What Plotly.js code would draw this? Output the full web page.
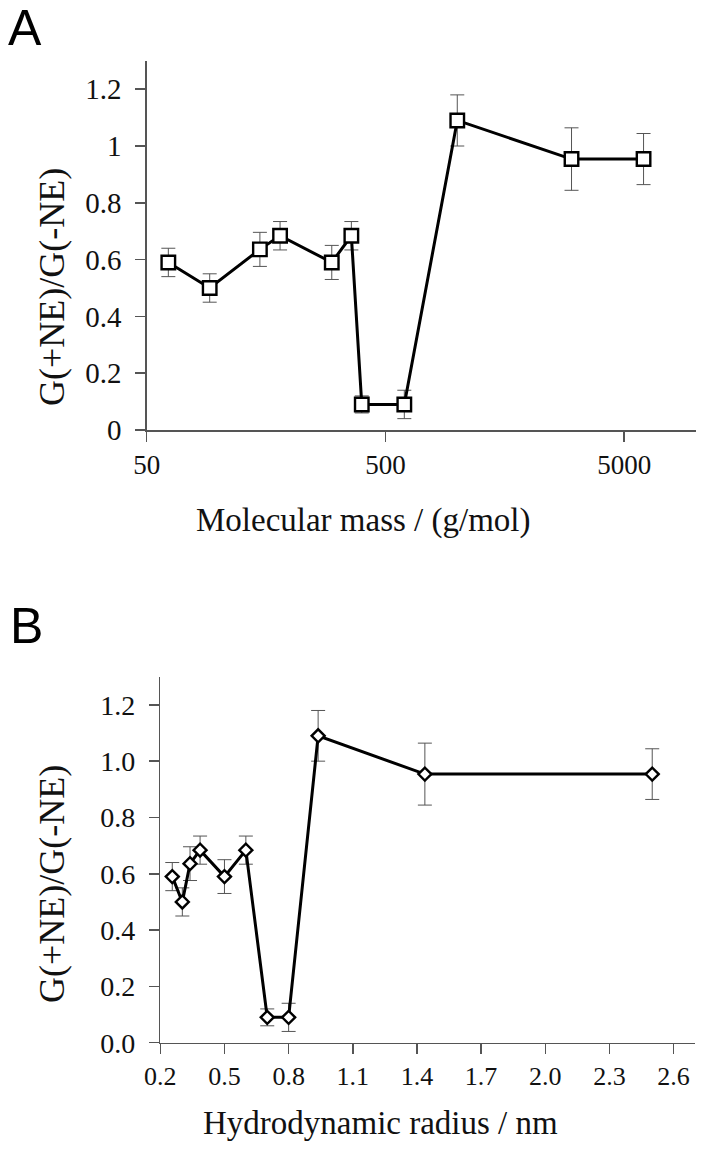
<!DOCTYPE html>
<html>
<head>
<meta charset="utf-8">
<script src="https://cdn.plot.ly/plotly-3.0.1.min.js"></script>
<style>html,body{margin:0;padding:0;background:#fff;}#chart{width:705px;height:1151px;}</style>
</head>
<body>
<div id="chart"></div>
<script>
// Panel A: molecular mass (g/mol)
const massA = [61.6, 91.8, 149, 181, 298, 360, 398, 600, 1000, 3010, 6030];
const ratioA = [0.59, 0.50, 0.636, 0.684, 0.59, 0.684, 0.09, 0.09, 1.09, 0.954, 0.954];
const errA = [0.05, 0.05, 0.06, 0.05, 0.06, 0.05, 0.03, 0.05, 0.09, 0.11, 0.09];
const tickValsA = [50, 500, 5000];
const tickTextA = ['50', '500', '5000'];

// Panel B: hydrodynamic radius (nm)
const radiusB = [0.256, 0.303, 0.339, 0.386, 0.5, 0.6, 0.7, 0.8, 0.938, 1.437, 2.5];
const ratioB = [0.59, 0.50, 0.636, 0.684, 0.59, 0.684, 0.09, 0.09, 1.09, 0.954, 0.954];
const errB = [0.05, 0.05, 0.06, 0.05, 0.06, 0.05, 0.03, 0.05, 0.09, 0.11, 0.09];
const tickValsB = [0.2, 0.5, 0.8, 1.1, 1.4, 1.7, 2.0, 2.3, 2.6];

const W = 705, H = 1151;
const px = v => v / W;
const py = v => 1 - v / H;

const serif = 'Liberation Serif, Times New Roman, serif';
const sans = 'Liberation Sans, Arial, sans-serif';
const axisCol = '#555555';
const txtCol = '#111111';

const traceA = {
  x: massA, y: ratioA, type: 'scatter', mode: 'lines+markers',
  xaxis: 'x', yaxis: 'y',
  line: {color: '#000', width: 3},
  marker: {symbol: 'square', size: 13.5, color: '#fff', line: {color: '#000', width: 2.4}},
  error_y: {type: 'data', array: errA, visible: true, color: axisCol, thickness: 1, width: 7},
  showlegend: false, cliponaxis: false
};
const traceB = {
  x: radiusB, y: ratioB, type: 'scatter', mode: 'lines+markers',
  xaxis: 'x2', yaxis: 'y2',
  line: {color: '#000', width: 3},
  marker: {symbol: 'diamond', size: 10, color: '#fff', line: {color: '#000', width: 2.4}},
  error_y: {type: 'data', array: errB, visible: true, color: axisCol, thickness: 1, width: 7},
  showlegend: false, cliponaxis: false
};

const axBase = {
  showgrid: false, zeroline: false, showline: true, linecolor: axisCol, linewidth: 1.5,
  ticks: 'outside', ticklen: 10, tickwidth: 1.5, tickcolor: axisCol, fixedrange: true
};

const layout = {
  width: W, height: H,
  margin: {l: 0, r: 0, t: 0, b: 0},
  paper_bgcolor: '#fff', plot_bgcolor: '#fff',
  xaxis: Object.assign({}, axBase, {
    type: 'log', domain: [px(146.7), px(696)],
    range: [Math.log10(50), 4],
    tickmode: 'array', tickvals: tickValsA, ticktext: tickTextA,
    tickfont: {family: serif, size: 27, color: txtCol},
    anchor: 'y'
  }),
  yaxis: Object.assign({}, axBase, {
    domain: [py(430), py(60.8)], range: [0, 1.3],
    tickmode: 'array', tickvals: [0, 0.2, 0.4, 0.6, 0.8, 1, 1.2],
    ticktext: ['0', '0.2', '0.4', '0.6', '0.8', '1', '1.2'],
    tickfont: {family: serif, size: 29, color: txtCol},
    ticklabelstandoff: 8,
    anchor: 'x'
  }),
  xaxis2: Object.assign({}, axBase, {
    domain: [px(160.3), px(695)], range: [0.2, 2.7],
    tickmode: 'array', tickvals: tickValsB, tickformat: '.1f',
    tickfont: {family: serif, size: 26, color: txtCol},
    anchor: 'y2'
  }),
  yaxis2: Object.assign({}, axBase, {
    domain: [py(1042.7), py(676.7)], range: [0, 1.3],
    tickmode: 'array', tickvals: [0, 0.2, 0.4, 0.6, 0.8, 1.0, 1.2], tickformat: '.1f',
    tickfont: {family: serif, size: 28, color: txtCol},
    ticklabelstandoff: 8,
    anchor: 'x2'
  }),
  annotations: [
    {text: 'A', xref: 'paper', yref: 'paper', x: px(6), y: py(28), xanchor: 'left', yanchor: 'middle',
     showarrow: false, font: {family: sans, size: 50, color: '#000'}},
    {text: 'B', xref: 'paper', yref: 'paper', x: px(8), y: py(626), xanchor: 'left', yanchor: 'middle',
     showarrow: false, font: {family: sans, size: 50, color: '#000'}},
    {text: 'Molecular mass / (g/mol)', xref: 'paper', yref: 'paper', x: px(363.5), y: py(520), xanchor: 'center', yanchor: 'middle',
     showarrow: false, font: {family: serif, size: 33, color: txtCol}},
    {text: 'Hydrodynamic radius / nm', xref: 'paper', yref: 'paper', x: px(380), y: py(1123), xanchor: 'center', yanchor: 'middle',
     showarrow: false, font: {family: serif, size: 33, color: txtCol}},
    {text: 'G(+NE)/G(-NE)', xref: 'paper', yref: 'paper', x: px(52), y: py(287), xanchor: 'center', yanchor: 'middle',
     textangle: -90, showarrow: false, font: {family: serif, size: 36, color: txtCol}},
    {text: 'G(+NE)/G(-NE)', xref: 'paper', yref: 'paper', x: px(52), y: py(884), xanchor: 'center', yanchor: 'middle',
     textangle: -90, showarrow: false, font: {family: serif, size: 36, color: txtCol}}
  ]
};

Plotly.newPlot('chart', [traceA, traceB], layout, {displayModeBar: false, staticPlot: true});
</script>
</body>
</html>
